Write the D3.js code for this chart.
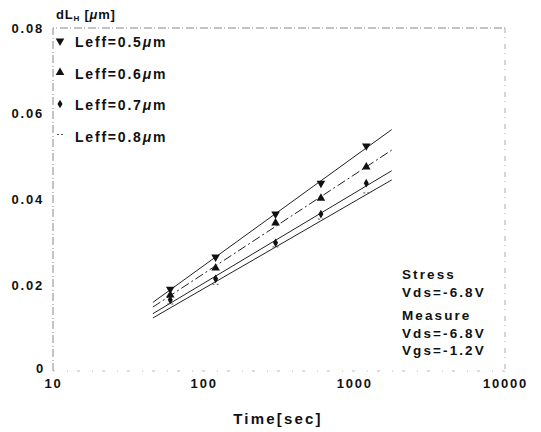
<!DOCTYPE html>
<html>
<head>
<meta charset="utf-8">
<script src="https://cdn.jsdelivr.net/npm/d3@7"></script>
<style>
  body { margin: 0; background: #fff; }
  svg { display: block; }
  text { font-family: "Liberation Sans", Arial, sans-serif; fill: #111; font-weight: bold; }
</style>
</head>
<body>
<svg id="chart" width="541" height="432"></svg>
<script>
// data
const times = [60, 120, 300, 600, 1200];
const leff05 = [0.0191, 0.0266, 0.0366, 0.0438, 0.0525];
const leff06 = [0.0177, 0.0240, 0.0345, 0.0403, 0.0476];
const leff07 = [0.0166, 0.0215, 0.0299, 0.0366, 0.0438];
const leff08 = [0.0154, 0.0200, 0.0287, 0.0352, 0.0413];
const seriesNames = ['Leff=0.5', 'Leff=0.6', 'Leff=0.7', 'Leff=0.8'];
const xTicks = [10, 100, 1000, 10000];
const yTicks = [0, 0.02, 0.04, 0.06, 0.08];
const fitRange = [46, 1770];
const notes = ['Stress', 'Vds=-6.8V', 'Measure', 'Vds=-6.8V', 'Vgs=-1.2V'];

const svg = d3.select('#chart');
const margin = { top: 28, right: 36, bottom: 61, left: 53 };
const W = 541 - margin.left - margin.right;
const H = 432 - margin.top - margin.bottom;
const g = svg.append('g').attr('transform', `translate(${margin.left},${margin.top})`);

const x = d3.scaleLog().domain([10, 10000]).range([0, W]);
const y = d3.scaleLinear().domain([0, 0.08]).range([H, 0]);

// frame, faint and broken like the scan
const frame = [
    [[0, H], [0, 0], [W, 0]],
    [[W, 0], [W, H]],
    [[W, H], [0, H]]
];
const frameStyle = [['#888', '8,2,1,3'], ['#aaa', '5,4,1,6'], ['#bbb', '3,9,1,12']];
frame.forEach((pts, i) => {
    g.append('path').attr('d', d3.line()(pts))
        .style('fill', 'none')
        .style('stroke', frameStyle[i][0])
        .style('stroke-width', 1)
        .style('stroke-dasharray', frameStyle[i][1]);
});

// axes (labels only)
const xAxis = g.append('g').attr('transform', `translate(0,${H})`)
    .call(d3.axisBottom(x).tickValues(xTicks).tickFormat(d3.format('d')).tickSize(0).tickPadding(8));
const yAxis = g.append('g')
    .call(d3.axisLeft(y).tickValues(yTicks).tickFormat(d => d === 0 ? '0' : d.toFixed(2)).tickSize(0).tickPadding(9));
[xAxis, yAxis].forEach(a => {
    a.select('.domain').remove();
    a.selectAll('text').style('font-size', '13px').style('font-family', '"Liberation Sans", Arial, sans-serif')
        .style('font-weight', 'bold').style('letter-spacing', '1.8px').style('fill', '#111');
});
yAxis.selectAll('text').filter(d => d === 0).attr('x', -8).attr('dy', '0.1em');

const series = [leff05, leff06, leff07, leff08].map((vals, i) => ({
    name: seriesNames[i],
    points: times.map((t, j) => ({ t, v: vals[j] }))
}));

// least squares fit in log(t)
function fit(points) {
    const xs = points.map(p => Math.log10(p.t)), ys = points.map(p => p.v);
    const mx = d3.mean(xs), my = d3.mean(ys);
    const b = d3.sum(xs, (xv, i) => (xv - mx) * (ys[i] - my)) / d3.sum(xs, xv => (xv - mx) ** 2);
    return t => my + b * (Math.log10(t) - mx);
}

const dashes = [null, '9,3,2,3', null, null];
const line = d3.line().x(d => x(d.t)).y(d => y(d.v));
series.forEach((s, i) => {
    const f = fit(s.points);
    g.append('path')
        .datum(fitRange.map(t => ({ t, v: f(t) })))
        .attr('d', line)
        .style('fill', 'none')
        .style('stroke', '#222')
        .style('stroke-width', 1)
        .style('stroke-dasharray', dashes[i]);
});

// markers
const triDown = d3.symbol().type(d3.symbolTriangle).size(32);
const diamond = d3.symbol().type(d3.symbolDiamond).size(22);
function marker(sel, i) {
    if (i === 0) sel.append('path').attr('d', triDown).attr('transform', 'rotate(180)').style('fill', '#111');
    else if (i === 1) sel.append('path').attr('d', triDown).style('fill', '#111');
    else if (i === 2) sel.append('path').attr('d', diamond).style('fill', '#111');
    else {
        sel.append('line').attr('x1', -3).attr('x2', -1).attr('y1', -1).attr('y2', -1).style('stroke', '#555');
        sel.append('line').attr('x1', 1).attr('x2', 3).attr('y1', -1).attr('y2', -1).style('stroke', '#555');
    }
}
series.forEach((s, i) => {
    g.selectAll(null).data(s.points).enter().append('g')
        .attr('transform', d => `translate(${x(d.t)},${y(d.v)})`)
        .each(function() { marker(d3.select(this), i); });
});

// legend
const legend = g.append('g').attr('transform', 'translate(7,14)');
seriesNames.forEach((n, i) => {
    const row = legend.append('g').attr('transform', `translate(0,${i * 31.5})`);
    marker(row.append('g').attr('transform', 'translate(0,-1)'), i);
    const t = row.append('text').attr('x', 15).attr('y', 5)
        .style('font-size', '14px').style('letter-spacing', '1.8px');
    t.append('tspan').text(n);
    t.append('tspan').style('font-style', 'italic').text('\u03bc');
    t.append('tspan').text('m');
});

// y title
const yt = svg.append('text').attr('x', 56).attr('y', 19).style('font-size', '13px').style('letter-spacing', '0.8px');
yt.append('tspan').text('dL');
yt.append('tspan').style('font-size', '8px').attr('dy', 2).text('H');
yt.append('tspan').attr('dy', -2).text(' [');
yt.append('tspan').style('font-style', 'italic').text('\u03bc');
yt.append('tspan').text('m]');

// x title
svg.append('text').attr('x', 278).attr('y', 424).attr('text-anchor', 'middle')
    .style('font-size', '15px').style('letter-spacing', '2.2px').text('Time[sec]');

// conditions
const noteY = [279, 297, 320, 338, 355];
notes.forEach((n, i) => {
    svg.append('text').attr('x', 402).attr('y', noteY[i])
        .style('font-size', '13.5px').style('letter-spacing', '2.1px').text(n);
});
</script>
</body>
</html>
